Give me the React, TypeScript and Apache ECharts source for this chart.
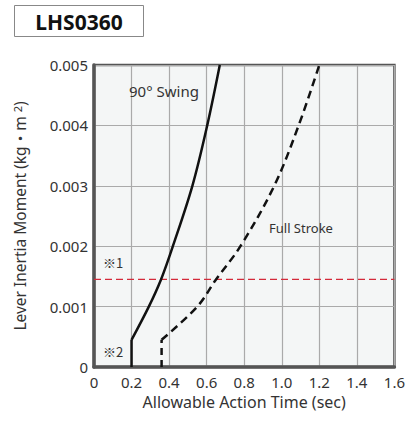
import React, { useEffect, useRef } from "react";
import * as echarts from "echarts";

const xTicks = [0, 0.2, 0.4, 0.6, 0.8, 1.0, 1.2, 1.4, 1.6];
const yTicks = [0, 0.001, 0.002, 0.003, 0.004, 0.005];

// 90° Swing curve (time sec, moment kg·m²)
const swingTime = [0.2, 0.2, 0.292, 0.357, 0.42, 0.524, 0.603, 0.67];
const swingMoment = [0, 0.00045, 0.001, 0.00145, 0.002, 0.003, 0.004, 0.005];

// Full Stroke curve
const strokeTime = [0.36, 0.36, 0.55, 0.65, 0.78, 0.96, 1.09, 1.2];
const strokeMoment = [0, 0.00045, 0.001, 0.00145, 0.002, 0.003, 0.004, 0.005];

const limitMoment = 0.00145;

const FONT = "'Noto Sans', 'Noto Sans CJK JP', sans-serif";
const CJK = "'Noto Sans CJK JP', 'Noto Sans', sans-serif";
const TXT = "#333333";

export default function App() {
  const ref = useRef<HTMLDivElement>(null);
  useEffect(() => {
    if (!ref.current) return;
    const chart = echarts.init(ref.current, null, { renderer: "svg" });
    const pts = (xs: number[], ys: number[]) => xs.map((x, i) => [x, ys[i]]);
    const swing = pts(swingTime, swingMoment);
    const stroke = pts(strokeTime, strokeMoment);
    const xMin = xTicks[0];
    const xMax = xTicks[xTicks.length - 1];
    chart.setOption({
      animation: false,
      backgroundColor: "#ffffff",
      textStyle: { fontFamily: FONT },
      grid: {
        left: 94,
        top: 65,
        right: 11,
        bottom: 55,
        show: true,
        backgroundColor: "#f4f6f6",
        borderColor: "#555555",
        borderWidth: 2.5,
      },
      xAxis: {
        type: "value",
        min: xMin,
        max: xMax,
        interval: 0.2,
        name: "Allowable Action Time (sec)",
        nameLocation: "middle",
        nameGap: 27,
        nameTextStyle: { fontSize: 16, color: TXT, fontFamily: FONT },
        axisLine: { show: true, lineStyle: { color: "#555555", width: 3.5 } },
        axisTick: { show: false },
        axisLabel: {
          fontSize: 15,
          color: TXT,
          margin: 7,
          fontFamily: FONT,
          formatter: (v: number) => (v === 0 ? "0" : v.toFixed(1)),
        },
        splitLine: { show: true, lineStyle: { color: "#aaaaaa", width: 1.2 } },
      },
      yAxis: {
        type: "value",
        min: yTicks[0],
        max: yTicks[yTicks.length - 1],
        interval: 0.001,
        name: "Lever Inertia Moment (kg・m {sup|2})",
        nameLocation: "middle",
        nameGap: 66,
        nameRotate: 90,
        nameTextStyle: {
          fontSize: 15.5,
          color: TXT,
          fontFamily: FONT,
          rich: {
            sup: { fontSize: 11, color: TXT, verticalAlign: "top", padding: [0, 0, 5, 0], fontFamily: FONT },
          },
        },
        axisLine: { show: true, lineStyle: { color: "#555555", width: 3.5 } },
        axisTick: { show: false },
        axisLabel: {
          fontSize: 15,
          color: TXT,
          margin: 6,
          fontFamily: FONT,
          formatter: (v: number) => (v === 0 ? "0" : v.toFixed(3)),
        },
        splitLine: { show: true, lineStyle: { color: "#aaaaaa", width: 1.2 } },
      },
      series: [
        {
          type: "line",
          data: [
            [xMin, limitMoment],
            [xMax, limitMoment],
          ],
          showSymbol: false,
          silent: true,
          z: 1,
          lineStyle: { color: "#d42a3a", width: 1.1, type: [7, 4] },
        },
        {
          type: "line",
          data: swing.slice(0, 2),
          showSymbol: false,
          lineStyle: { color: "#111", width: 2.5 },
        },
        {
          type: "line",
          data: swing.slice(1),
          smooth: 0.35,
          showSymbol: false,
          lineStyle: { color: "#111", width: 2.5 },
        },
        {
          type: "line",
          data: stroke.slice(0, 2),
          showSymbol: false,
          lineStyle: { color: "#111", width: 2.5, type: [7, 5] },
        },
        {
          type: "line",
          data: stroke.slice(1),
          smooth: 0.35,
          showSymbol: false,
          lineStyle: { color: "#111", width: 2.5, type: [8, 5] },
        },
      ],
      graphic: [
        {
          type: "rect",
          shape: { x: 14.5, y: 5.5, width: 129, height: 31 },
          style: { fill: "#fff", stroke: "#888", lineWidth: 1 },
        },
        {
          type: "text",
          x: 79,
          y: 22,
          style: {
            text: "LHS0360",
            font: `bold 21px ${FONT}`,
            fill: "#111",
            textAlign: "center",
            textVerticalAlign: "middle",
          },
        },
        {
          type: "text",
          x: 129,
          y: 91,
          z: 100,
          style: {
            text: "90° Swing",
            font: `15px ${FONT}`,
            fill: TXT,
            textAlign: "left",
            textVerticalAlign: "middle",
          },
        },
        {
          type: "text",
          x: 269,
          y: 228,
          z: 100,
          style: {
            text: "Full Stroke",
            font: `13px ${FONT}`,
            fill: TXT,
            textAlign: "left",
            textVerticalAlign: "middle",
          },
        },
        {
          type: "text",
          x: 103,
          y: 262,
          z: 100,
          style: {
            text: "※1",
            font: `13px ${CJK}`,
            fill: TXT,
            textAlign: "left",
            textVerticalAlign: "middle",
          },
        },
        {
          type: "text",
          x: 103,
          y: 351,
          z: 100,
          style: {
            text: "※2",
            font: `13px ${CJK}`,
            fill: TXT,
            textAlign: "left",
            textVerticalAlign: "middle",
          },
        },
      ],
    });
    return () => chart.dispose();
  }, []);
  return <div ref={ref} style={{ width: 408, height: 422, position: "absolute", left: 0, top: 0 }} />;
}
